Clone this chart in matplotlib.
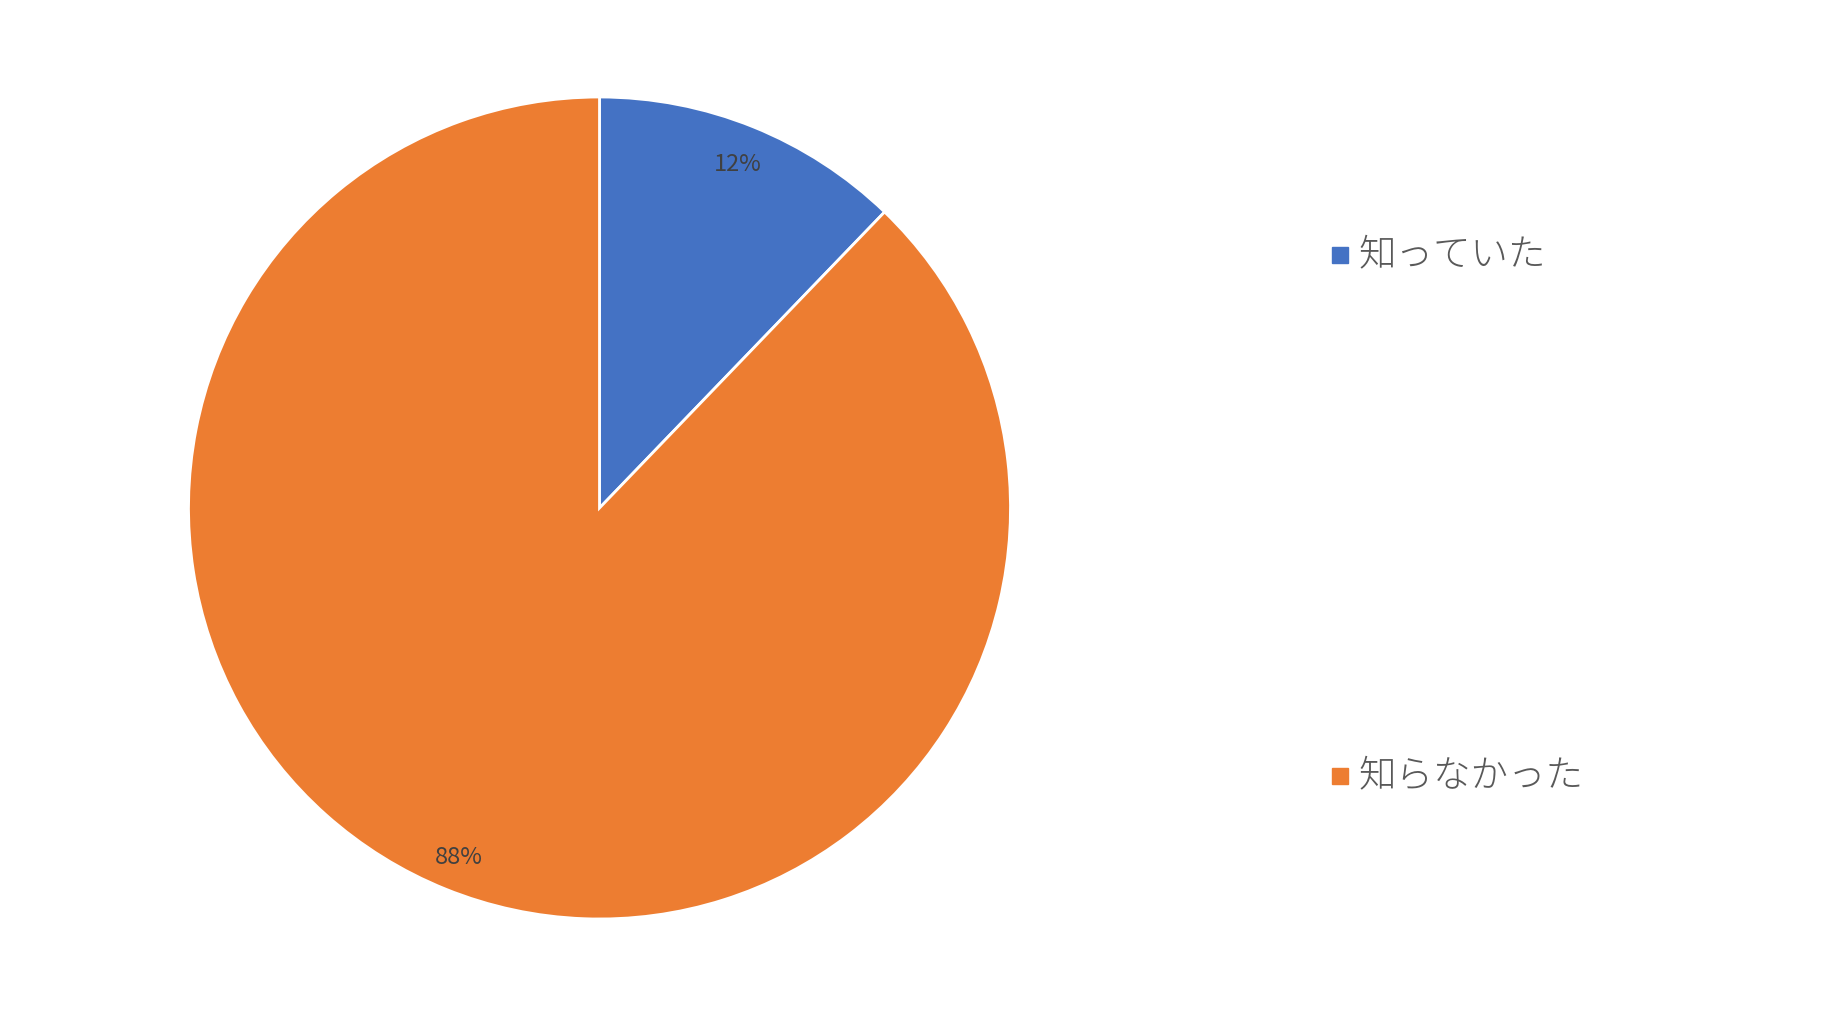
import matplotlib.pyplot as plt
from matplotlib.patches import Rectangle

plt.rcParams['font.family'] = ['Noto Sans CJK JP', 'DejaVu Sans']

labels = ['知っていた', '知らなかった']
values = [12.2, 87.8]
colors = ['#4472C4', '#ED7D31']

W, H = 1836, 1028
fig = plt.figure(figsize=(W / 100, H / 100), dpi=100)

# pie axes: centre (599.5, 508) px, radius 411 px
r = 411
ax = fig.add_axes([(599.5 - r) / W, (H - 508 - r) / H, 2 * r / W, 2 * r / H])
wedges, texts, autotexts = ax.pie(
    values, colors=colors, startangle=90, counterclock=False,
    autopct='%1.0f%%', pctdistance=0.9,
    wedgeprops=dict(edgecolor='white', linewidth=2),
    textprops=dict(color='#404040', fontsize=17))
# the big slice's label sits a touch further out
x, y = autotexts[1].get_position()
autotexts[1].set_position((x * 1.02, y * 1.02))
ax.set_xlim(-1, 1)
ax.set_ylim(-1, 1)
ax.set_aspect('equal')

# legend drawn by hand to match the wide spacing
legend_y = [255, 776]
for lab, col, y in zip(labels, colors, legend_y):
    fig.add_artist(Rectangle((1332 / W, (H - y - 8) / H), 16 / W, 16 / H,
                             transform=fig.transFigure, color=col))
    fig.text(1358 / W, (H - y) / H, lab, fontsize=27, color='#595959',
             fontweight='light', va='center', ha='left')

fig.savefig('out.png', dpi=100)
